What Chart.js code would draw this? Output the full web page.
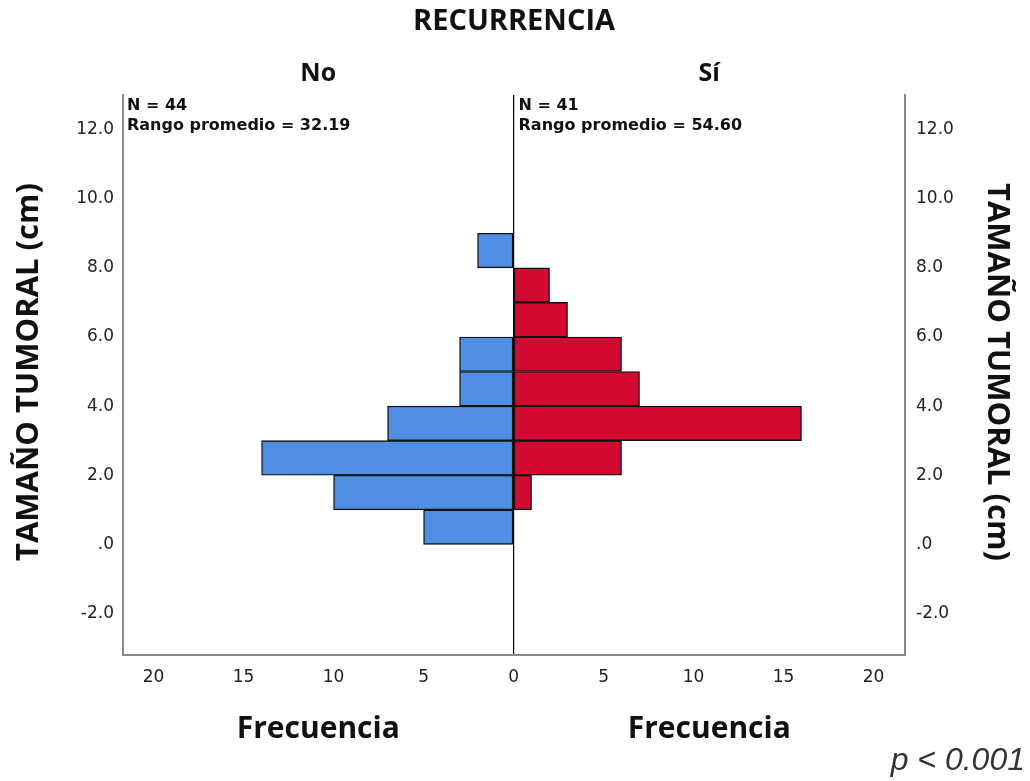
<!DOCTYPE html>
<html lang="es">
<head>
    <meta charset="UTF-8">
    <title>Recurrencia - Tamaño tumoral</title>
    <style>
        body {
            margin: 0;
            background-color: white;
        }
        .chart-container {
            width: 1030px;
            height: 781px;
        }
    </style>
    <script src="https://cdn.jsdelivr.net/npm/chart.js"></script>
</head>
<body>
    <div class="chart-container">
        <canvas id="pyramid"></canvas>
    </div>

    <script>
        // bins of tumour size (cm), lower edge of each 1 cm interval
        const binsNo = [0, 1, 2, 3, 4, 5, 8];
        const countsNo = [5, 10, 14, 7, 3, 3, 2];
        const binsSi = [1, 2, 3, 4, 5, 6, 7];
        const countsSi = [1, 6, 16, 7, 6, 3, 2];

        const yTicks = [-2, 0, 2, 4, 6, 8, 10, 12];
        const xTicks = [-20, -15, -10, -5, 0, 5, 10, 15, 20];

        const groupLabels = ['No', 'Sí'];
        const statsText = [
            ['N = 44', 'Rango promedio = 32.19'],
            ['N = 41', 'Rango promedio = 54.60']
        ];

        const blue = '#4f8fe3';
        const red = '#d20a32';

        function fmtY(v) {
            if (v === 0) return '.0';
            return v.toFixed(1);
        }

        const textPlugin = {
            id: 'textPlugin',
            afterDraw(chart) {
                const ctx = chart.ctx;
                const area = chart.chartArea;
                const x = chart.scales.x;
                const zero = x.getPixelForValue(0);
                const midL = (area.left + zero) / 2;
                const midR = (zero + area.right) / 2;
                ctx.save();
                ctx.fillStyle = '#111';
                ctx.textAlign = 'center';
                ctx.textBaseline = 'middle';

                ctx.font = 'bold 29px "Open Sans"';
                ctx.fillText('RECURRENCIA', 514, 22);

                ctx.font = 'bold 25px "Open Sans"';
                ctx.fillText(groupLabels[0], midL, 74);
                ctx.fillText(groupLabels[1], midR, 74);

                ctx.font = 'bold 30px "Open Sans"';
                ctx.fillText('Frecuencia', midL, 729);
                ctx.fillText('Frecuencia', midR, 729);

                // stats in each panel
                ctx.textAlign = 'left';
                ctx.font = 'bold 16px "DejaVu Sans"';
                ctx.fillText(statsText[0][0], area.left + 4, 106);
                ctx.fillText(statsText[0][1], area.left + 4, 126);
                ctx.fillText(statsText[1][0], zero + 5, 106);
                ctx.fillText(statsText[1][1], zero + 5, 126);

                // y axis titles
                ctx.font = 'bold 31px "Open Sans"';
                ctx.textAlign = 'center';
                ctx.save();
                ctx.translate(29, 372);
                ctx.rotate(-Math.PI / 2);
                ctx.fillText('TAMAÑO TUMORAL (cm)', 0, 0);
                ctx.restore();
                ctx.save();
                ctx.translate(997, 372);
                ctx.rotate(Math.PI / 2);
                ctx.fillText('TAMAÑO TUMORAL (cm)', 0, 0);
                ctx.restore();

                ctx.fillStyle = '#333';
                ctx.font = 'italic 32px "Liberation Sans"';
                ctx.textAlign = 'right';
                ctx.fillText('p < 0.001', 1025, 761);
                ctx.restore();
            }
        };

        const yTickFont = { family: 'DejaVu Sans', size: 17 };

        const ctx = document.getElementById('pyramid').getContext('2d');
        new Chart(ctx, {
            type: 'bar',
            data: {
                datasets: [{
                    label: 'No',
                    data: binsNo.map((b, i) => ({ x: -countsNo[i], y: b + 0.5 })),
                    backgroundColor: blue,
                    borderColor: '#111',
                    borderWidth: 1.4,
                    borderSkipped: false,
                    grouped: false,
                    barPercentage: 1,
                    categoryPercentage: 1
                }, {
                    label: 'Sí',
                    data: binsSi.map((b, i) => ({ x: countsSi[i], y: b + 0.5 })),
                    backgroundColor: red,
                    borderColor: '#111',
                    borderWidth: 1.4,
                    borderSkipped: false,
                    grouped: false,
                    barPercentage: 1,
                    categoryPercentage: 1
                }]
            },
            options: {
                indexAxis: 'y',
                responsive: true,
                maintainAspectRatio: false,
                animation: false,
                layout: { padding: { top: 95, left: 0, right: 0, bottom: 0 } },
                scales: {
                    x: {
                        type: 'linear',
                        min: -21.7,
                        max: 21.75,
                        afterBuildTicks: s => { s.ticks = xTicks.map(v => ({ value: v })); },
                        afterFit: s => { s.height = 126; },
                        ticks: {
                            callback: v => Math.abs(v),
                            color: '#222',
                            font: { family: 'DejaVu Sans', size: 17 },
                            padding: 12,
                            maxRotation: 0
                        },
                        grid: {
                            drawTicks: false,
                            color: c => c.tick && c.tick.value === 0 ? '#000' : 'rgba(0,0,0,0)',
                            lineWidth: 1.2
                        },
                        border: { color: '#888', width: 2 }
                    },
                    y: {
                        type: 'linear',
                        position: 'left',
                        offset: false,
                        min: -3.2,
                        max: 13,
                        afterBuildTicks: s => { s.ticks = yTicks.map(v => ({ value: v })); },
                        afterFit: s => { s.width = 123; },
                        ticks: {
                            callback: v => fmtY(v),
                            color: '#222',
                            font: yTickFont,
                            padding: 9
                        },
                        grid: { display: false, drawTicks: false },
                        border: { color: '#888', width: 2 }
                    },
                    y2: {
                        type: 'linear',
                        position: 'right',
                        offset: false,
                        min: -3.2,
                        max: 13,
                        afterBuildTicks: s => { s.ticks = yTicks.map(v => ({ value: v })); },
                        afterFit: s => { s.width = 125; },
                        ticks: {
                            callback: v => fmtY(v),
                            color: '#222',
                            font: yTickFont,
                            padding: 11
                        },
                        grid: { display: false, drawTicks: false },
                        border: { color: '#888', width: 2 }
                    }
                },
                plugins: {
                    legend: { display: false },
                    tooltip: { enabled: false }
                }
            },
            plugins: [textPlugin]
        });
    </script>
</body>
</html>
